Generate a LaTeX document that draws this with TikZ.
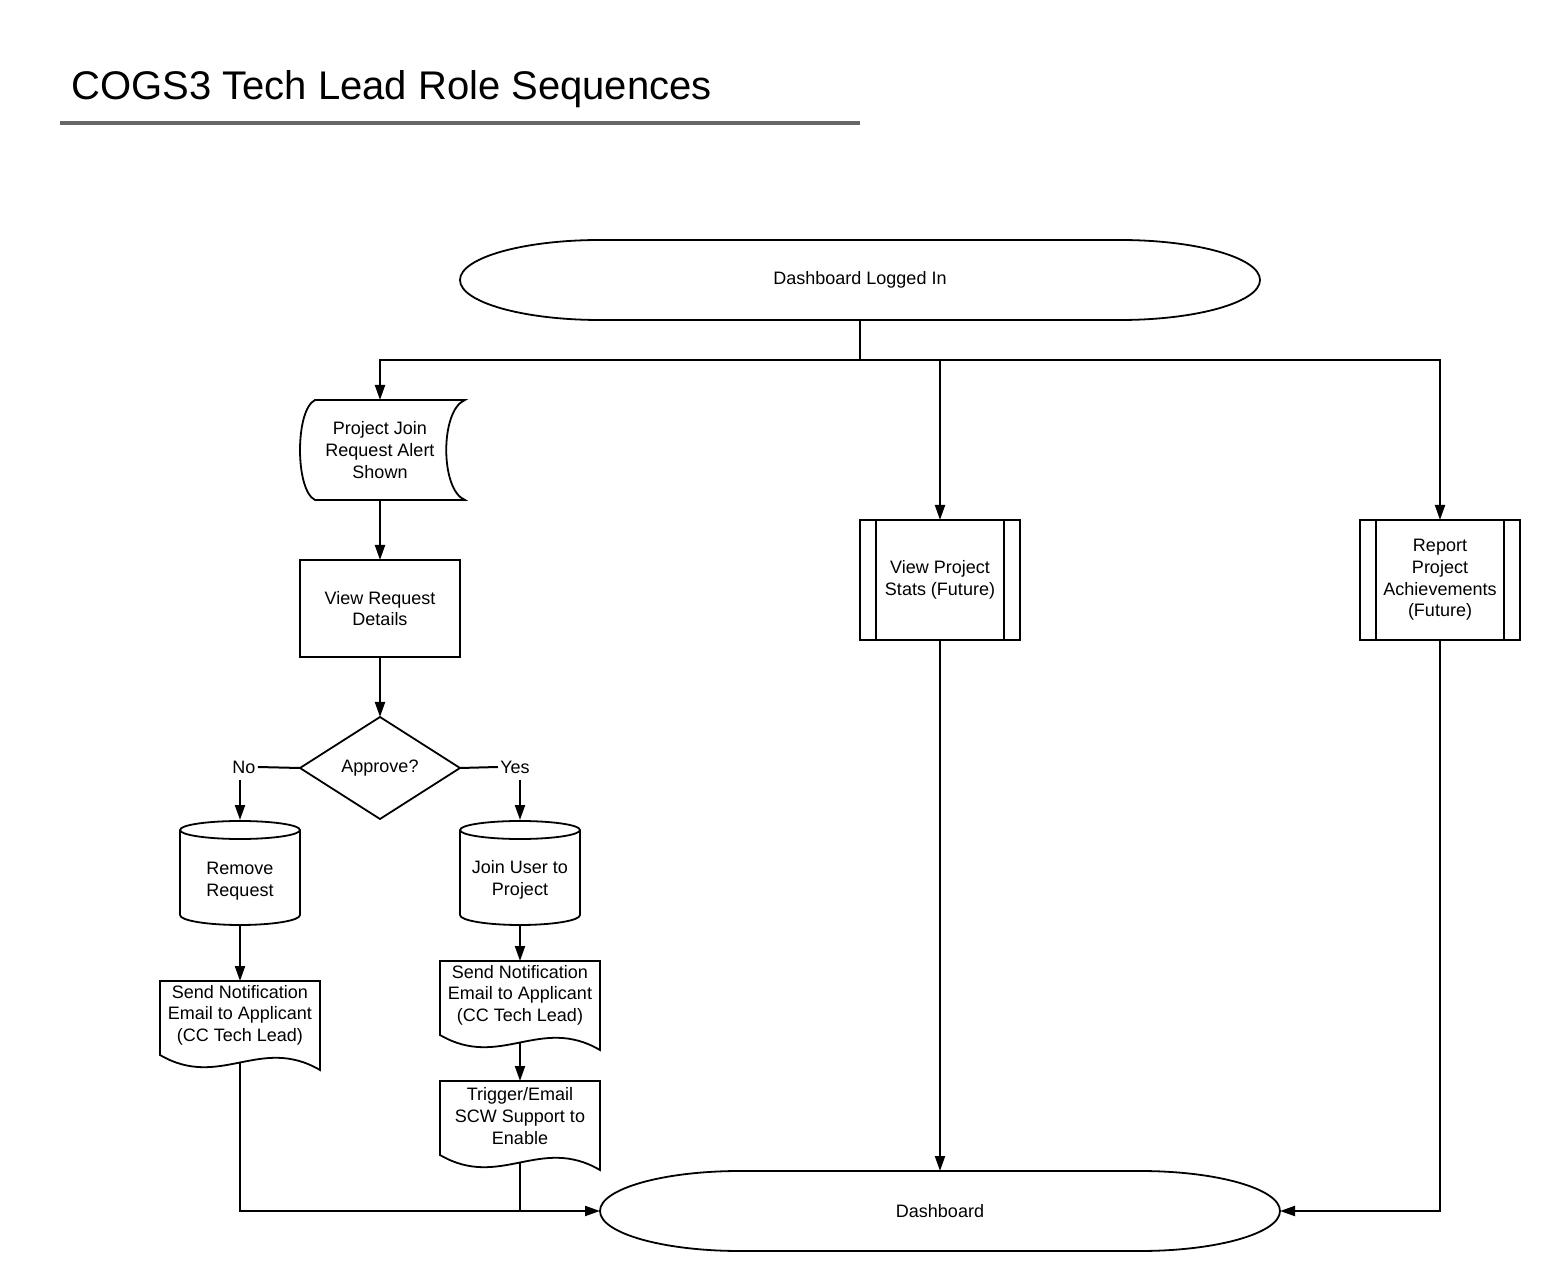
\documentclass[tikz,border=0pt]{standalone}
\usepackage{fontspec}
\setmainfont{Liberation Sans}
\usetikzlibrary{arrows.meta,shapes.geometric}
\begin{document}
\begin{tikzpicture}[x=0.5pt,y=-0.5pt,
  txt/.style={font=\fontsize{9}{10.8}\selectfont, align=center, inner sep=0pt},
  frame/.style={inner sep=0pt, outer sep=0pt},
  ol/.style={line width=0.9pt, fill=white},
  conn/.style={line width=1pt},
  arr/.style={conn,-{Triangle[length=7.5pt,width=5pt]}},
  lbl/.style={txt, inner xsep=1pt, inner ysep=3pt},
]
\fill[white] (0,0) rectangle (1560,1283);
\path[use as bounding box] (0,0) rectangle (1560,1283);

% title
\node[anchor=base west, inner sep=0pt, font=\fontsize{20}{24}\selectfont] (title) at (71,100) {COGS3 Tech Lead Role Sequences};
\draw[line width=2pt, color=black!60] (60,123) -- (860,123);

% start terminator
\draw[ol] (600,240) -- (1120,240) .. controls (1197.3,240) and (1260,257.9) .. (1260,280)
  .. controls (1260,302.1) and (1197.3,320) .. (1120,320) -- (600,320)
  .. controls (522.7,320) and (460,302.1) .. (460,280) .. controls (460,257.9) and (522.7,240) .. (600,240) -- cycle;
\node[txt, frame, minimum width=400pt, minimum height=40pt] (start) at (860,280) {Dashboard Logged In};

% end terminator
\draw[ol] (740,1171) -- (1140,1171) .. controls (1217.3,1171) and (1280,1188.9) .. (1280,1211)
  .. controls (1280,1233.1) and (1217.3,1251) .. (1140,1251) -- (740,1251)
  .. controls (662.7,1251) and (600,1233.1) .. (600,1211) .. controls (600,1188.9) and (662.7,1171) .. (740,1171) -- cycle;
\node[txt, frame, minimum width=340pt, minimum height=40pt] (dash) at (940,1211) {Dashboard};

% stored data
\draw[ol] (315,400) -- (465,400) .. controls (440,410) and (440,490) .. (465,500) -- (315,500)
  .. controls (295,490) and (295,410) .. (315,400) -- cycle;
\node[txt, frame, minimum width=82.5pt, minimum height=50pt] (alert) at (380,450) {Project Join\\Request Alert\\Shown};

% view request details
\node[txt, frame, draw, line width=0.9pt, minimum width=80pt, minimum height=48.5pt] (vrd) at (380,608.5) {View Request\\Details};

% decision
\node[txt, frame, draw, line width=0.9pt, shape=diamond, minimum width=80pt, minimum height=51pt] (ap) at (380,768) {Approve?};
\node[lbl] (no) at (244,767) {No};
\node[lbl] (yes) at (515,767) {Yes};

% cylinders
\draw[ol] (180,830) -- (180,915) .. controls (180,920.5) and (206.9,925) .. (240,925)
  .. controls (273.1,925) and (300,920.5) .. (300,915) -- (300,830);
\draw[ol] (240,830) ellipse [x radius=60, y radius=9];
\node[frame, minimum width=60pt, minimum height=52.5pt,
  label={[txt, yshift=-4.25pt]center:Remove\\Request}] (rem) at (240,872.5) {};

\draw[ol] (460,830) -- (460,915) .. controls (460,920.5) and (486.9,925) .. (520,925)
  .. controls (553.1,925) and (580,920.5) .. (580,915) -- (580,830);
\draw[ol] (520,830) ellipse [x radius=60, y radius=9];
\node[frame, minimum width=60pt, minimum height=52.5pt,
  label={[txt, yshift=-3.75pt]center:Join User to\\Project}] (join) at (520,872.5) {};

% documents
\draw[ol] (160,981) -- (320,981) -- (320,1070) .. controls (260,1035) and (220,1090) .. (160,1055) -- cycle;
\node[frame, minimum width=80pt, minimum height=40.75pt,
  label={[txt, yshift=3.375pt]center:Send Notification\\Email to Applicant\\(CC Tech Lead)}] (d1) at (240,1021.75) {};

\draw[ol] (440,961) -- (600,961) -- (600,1050) .. controls (540,1015) and (500,1070) .. (440,1035) -- cycle;
\node[frame, minimum width=80pt, minimum height=40.75pt,
  label={[txt, yshift=3.375pt]center:Send Notification\\Email to Applicant\\(CC Tech Lead)}] (d2) at (520,1001.75) {};

\draw[ol] (440,1081) -- (600,1081) -- (600,1170) .. controls (540,1135) and (500,1190) .. (440,1155) -- cycle;
\node[frame, minimum width=80pt, minimum height=40.75pt,
  label={[txt, yshift=2.875pt]center:Trigger/Email\\SCW Support to\\Enable}] (d3) at (520,1121.75) {};

% predefined processes
\node[txt, frame, draw, line width=0.9pt, minimum width=80pt, minimum height=60pt] (p1) at (940,580) {View Project\\Stats (Future)};
\draw[line width=0.9pt] (876,520) -- (876,640) (1004,520) -- (1004,640);
\node[txt, frame, draw, line width=0.9pt, minimum width=80pt, minimum height=60pt] (p2) at (1440,580) {Report\\Project\\Achievements\\(Future)};
\draw[line width=0.9pt] (1376,520) -- (1376,640) (1504,520) -- (1504,640);

% connectors
\coordinate (j) at (860,360);
\draw[conn] (start.south) -- (j);
\draw[arr] (j) -| (alert.north);
\draw[arr] (j) -| (p1.north);
\draw[arr] (j) -| (p2.north);
\draw[arr] (alert.south) -- (vrd.north);
\draw[arr] (vrd.south) -- (ap.north);
\draw[conn] (ap.west) -- (no.east);
\draw[conn] (ap.east) -- (yes.west);
\draw[arr] (no.south -| rem.north) -- (rem.north);
\draw[arr] (yes.south -| join.north) -- (join.north);
\draw[arr] (rem.south) -- (d1.north);
\draw[arr] (join.south) -- (d2.north);
\draw[arr] (d2.south) -- (d3.north);
\draw[arr] (d1.south) |- (dash.west);
\draw[conn] (d3.south) -- (d3.south |- dash.west);
\draw[arr] (p1.south) -- (dash.north);
\draw[arr] (p2.south) |- (dash.east);
\end{tikzpicture}
\end{document}
